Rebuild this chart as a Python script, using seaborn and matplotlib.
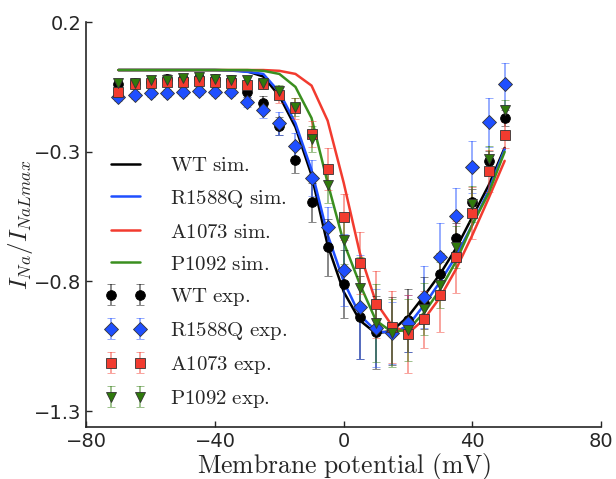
import matplotlib
matplotlib.use("Agg")
import numpy as np
import pandas as pd
import seaborn as sns
import matplotlib.pyplot as plt

# ---------- data ----------
voltage = list(range(-70, 55, 5))

wt_sim = [0.015] * 7 + [0.014, 0.01, -0.01, -0.085, -0.205, -0.39, -0.66, -0.84,
                        -0.95, -1.0, -0.99, -0.935, -0.855, -0.77, -0.67, -0.55, -0.43, -0.285]
r1588q_sim = [0.015] * 7 + [0.013, 0.008, 0.0, -0.07, -0.19, -0.37, -0.62, -0.80,
                            -0.93, -0.99, -1.0, -0.97, -0.89, -0.80, -0.70, -0.58, -0.45, -0.29]
a1073_sim = [0.015] * 9 + [0.015, 0.012, 0.0, -0.045, -0.18, -0.42,
                           -0.69, -0.88, -0.97, -1.0, -0.945, -0.86, -0.75, -0.62, -0.48, -0.335]
p1092_sim = [0.015] * 9 + [0.012, 0.0, -0.05, -0.17, -0.42, -0.65,
                           -0.81, -0.95, -0.995, -0.985, -0.92, -0.83, -0.72, -0.58, -0.46, -0.30]

wt_exp = [-0.04, -0.035, -0.03, -0.02, -0.02, -0.015, -0.02, -0.025, -0.07, -0.112, -0.201,
          -0.332, -0.494, -0.668, -0.81, -0.938, -0.996, -0.99, -0.95, -0.884, -0.772,
          -0.633, -0.494, -0.336, -0.17]
r1588q_exp = [-0.089, -0.082, -0.074, -0.074, -0.07, -0.066, -0.07, -0.07, -0.109, -0.139,
              -0.19, -0.278, -0.402, -0.591, -0.756, -0.899, -0.98, -0.999, -0.961, -0.861,
              -0.706, -0.548, -0.359, -0.186, -0.039]
a1073_exp = [-0.07, -0.039, -0.035, -0.031, -0.031, -0.028, -0.031, -0.035, -0.043, -0.039,
             -0.082, -0.132, -0.232, -0.367, -0.552, -0.729, -0.888, -0.976, -1.003, -0.945,
             -0.853, -0.706, -0.537, -0.375, -0.236]
p1092_exp = [-0.035, -0.035, -0.024, -0.024, -0.016, -0.012, -0.02, -0.024, -0.024, -0.035,
             -0.066, -0.128, -0.251, -0.429, -0.641, -0.826, -0.96, -0.999, -0.988, -0.907,
             -0.814, -0.668, -0.502, -0.328, -0.139]

wt_err = [0.02] * 8 + [0.02, 0.025, 0.035, 0.05, 0.075, 0.11, 0.13, 0.16, 0.14, 0.13,
                       0.12, 0.1, 0.08, 0.06, 0.05, 0.04, 0.03]
r1588q_err = [0.015] * 8 + [0.02, 0.03, 0.045, 0.05, 0.07, 0.08, 0.14, 0.2, 0.15, 0.12,
                            0.11, 0.12, 0.13, 0.11, 0.1, 0.095, 0.08]
a1073_err = [0.015] * 8 + [0.02, 0.02, 0.03, 0.04, 0.05, 0.08, 0.09, 0.12, 0.13, 0.14,
                           0.15, 0.11, 0.14, 0.14, 0.1, 0.08, 0.05]
p1092_err = [0.015] * 8 + [0.015, 0.02, 0.025, 0.035, 0.05, 0.07, 0.09, 0.12, 0.15, 0.13,
                           0.12, 0.1, 0.09, 0.08, 0.07, 0.05, 0.04]

names = ["WT", "R1588Q", "A1073", "P1092"]
line_colors = ["#000000", "#1f4fff", "#f23b2f", "#3a8f1f"]
marker_colors = ["#000000", "#1f4fff", "#f23b2f", "#2f7a0c"]
markers = ["o", "D", "s", "v"]
msizes = [7, 7, 6.5, 7.5]
sims = [wt_sim, r1588q_sim, a1073_sim, p1092_sim]
exps = [wt_exp, r1588q_exp, a1073_exp, p1092_exp]
errs = [wt_err, r1588q_err, a1073_err, p1092_err]

# ---------- style ----------
sns.set_style("ticks")
plt.rcParams["font.family"] = ["DejaVu Sans"]
plt.rcParams["mathtext.fontset"] = "cm"

fig = plt.figure(figsize=(6.16, 4.79), dpi=100)
ax = fig.add_axes([0.14, 0.109, 0.836, 0.845])

# simulated curves
sim_df = pd.concat(
    [pd.DataFrame({"V": voltage, "I": s, "name": n}) for n, s in zip(names, sims)]
)
sns.lineplot(data=sim_df, x="V", y="I", hue="name", hue_order=names,
             palette=line_colors, linewidth=1.8, legend=False, ax=ax, sort=False)
line_handles = ax.get_lines()[:4]

# experimental points with error bars
err_handles = []
for n, e, sd, mk, ms, c in zip(names, exps, errs, markers, msizes, marker_colors):
    h = ax.errorbar(voltage, e, yerr=sd, fmt=mk, color=c, markersize=ms,
                    markeredgecolor="#333333" if mk != "o" else c, markeredgewidth=0.6,
                    ecolor=matplotlib.colors.to_rgba(c, 0.55), elinewidth=1.2,
                    capsize=3, capthick=1.0, zorder=3)
    err_handles.append(h)

ax.set_xlim(-80, 80)
ax.set_ylim(-1.36, 0.2)
ax.set_xticks([-80, -40, 0, 40, 80])
ax.set_yticks([0.2, -0.3, -0.8, -1.3])
ax.tick_params(direction="in", length=4, labelsize=14, width=1)
for sp in ["left", "bottom"]:
    ax.spines[sp].set_linewidth(1.2)
sns.despine(ax=ax)

ax.set_xlabel(r"$\mathrm{Membrane\ potential\ (mV)}$", fontsize=18.5)
ax.set_ylabel(r"$I_{Na}/I_{NaLmax}$", fontsize=18)
ax.xaxis.set_label_coords(0.5, -0.06)
ax.yaxis.set_label_coords(-0.1, 0.5)

labels = [rf"$\mathrm{{{n}\ sim.}}$" for n in names] + [rf"$\mathrm{{{n}\ exp.}}$" for n in names]
ax.legend(line_handles + err_handles, labels, loc="lower left",
          bbox_to_anchor=(0.0, -0.005), frameon=False, fontsize=15, numpoints=2,
          handlelength=2.0, labelspacing=0.58, handletextpad=1.1)

fig.savefig("out.png", dpi=100)
